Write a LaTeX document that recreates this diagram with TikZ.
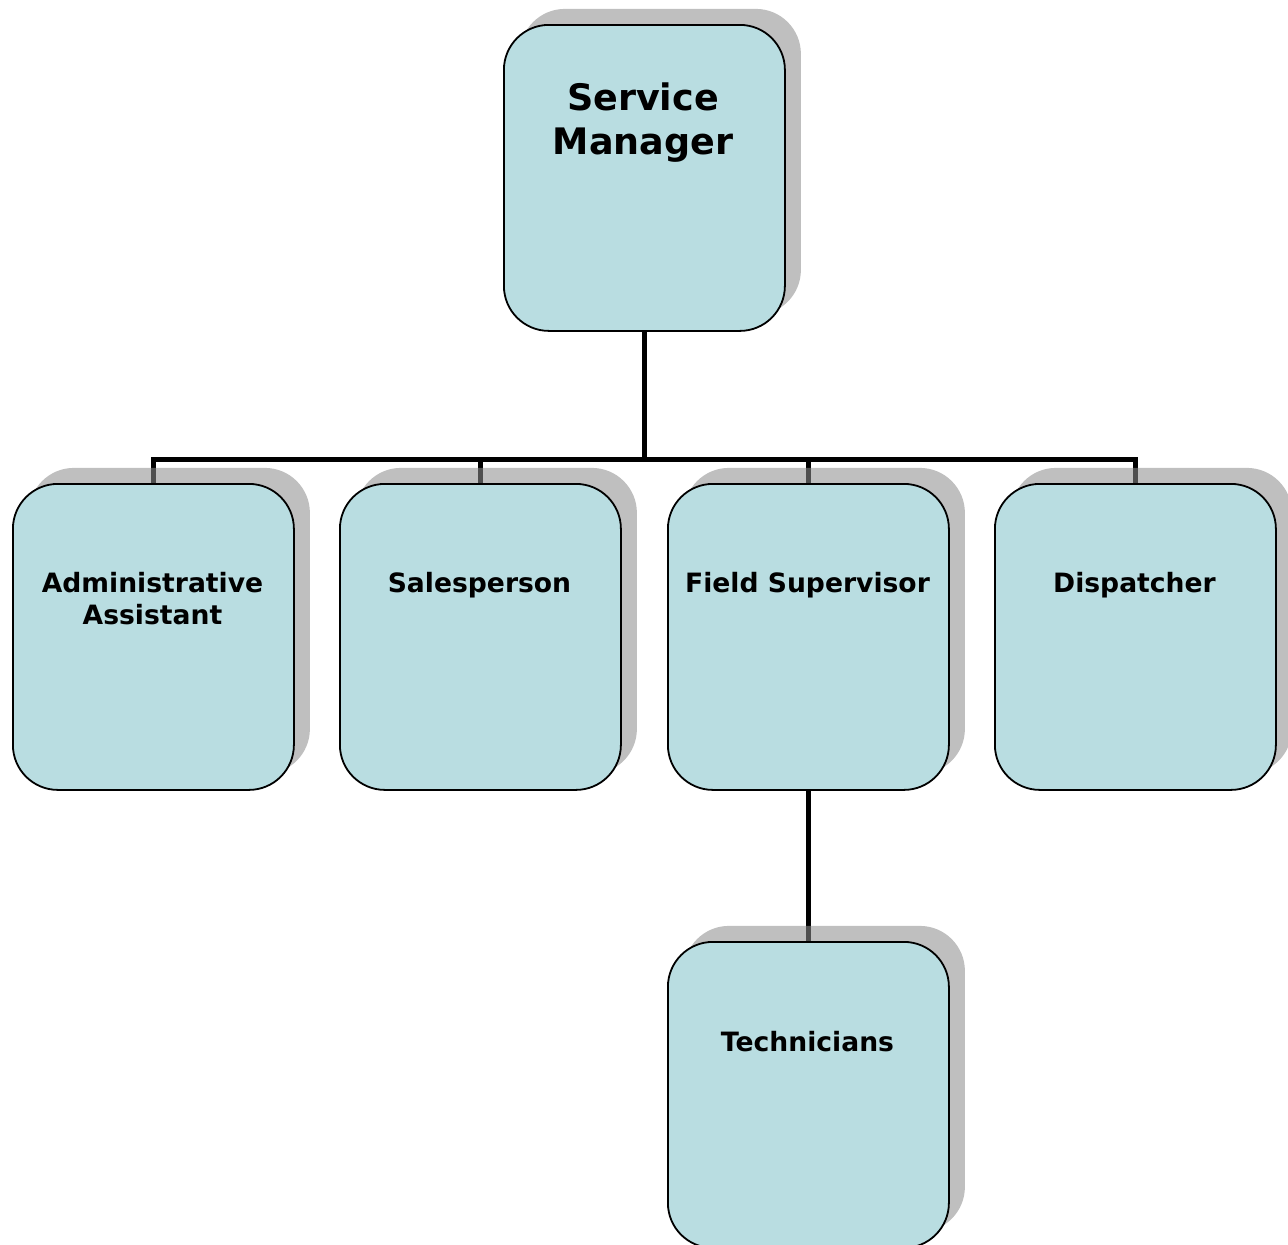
\documentclass[tikz,border=0pt]{standalone}
\usepackage{fontspec}
\setmainfont{DejaVu Sans}
\usetikzlibrary{shadows}
\pgfdeclarelayer{background}
\pgfsetlayers{background,main}
\definecolor{boxfill}{RGB}{185,221,225}
\definecolor{shadegray}{RGB}{141,141,141}
\tikzset{
  rolebox/.style={draw=black, line width=1.8pt, fill=boxfill,
    rounded corners=45pt, minimum width=281pt, minimum height=306pt,
    inner sep=0pt, anchor=north west,
    general shadow={shadow xshift=16pt, shadow yshift=16pt,
      fill=shadegray, opacity=0.56}},
  toptext/.style={anchor=north, inner sep=0pt, align=center,
    font=\fontsize{36.5}{44}\selectfont\bfseries},
  roletext/.style={anchor=north, inner sep=0pt, align=center,
    font=\fontsize{26.6}{32}\selectfont\bfseries},
  link/.style={draw=black, line width=5pt}
}
\begin{document}
\begin{tikzpicture}[x=1pt, y=1pt]
\useasboundingbox (0,0) rectangle (1288,-1245);

% level of the horizontal reporting bar
\coordinate (bus) at (0,-459);

% boxes
\node[rolebox] (sm)   at (503,-24)  {};
\node[rolebox] (adm)  at (12,-483)  {};
\node[rolebox] (sal)  at (339,-483) {};
\node[rolebox] (fs)   at (667,-483) {};
\node[rolebox] (dis)  at (994,-483) {};
\node[rolebox] (tec)  at (667,-941) {};

% reporting lines, kept underneath the boxes and their shadows
\begin{pgfonlayer}{background}
\draw[link] (sm.south) -- (sm.south |- bus);
\draw[link, line cap=rect] (adm.north |- bus) -- (dis.north |- bus);
\draw[link] (adm.north |- bus) -- (adm.north);
\draw[link] (sal.north |- bus) -- (sal.north);
\draw[link] (fs.north |- bus) -- (fs.north);
\draw[link] (dis.north |- bus) -- (dis.north);
\draw[link] (fs.south) -- (tec.north);
\end{pgfonlayer}

% labels
\node[toptext]  (smt)  at (643,-83)    {Service\\Manager};
\node[roletext] (admt) at (152.5,-572) {Administrative\\Assistant};
\node[roletext] (salt) at (479.5,-572) {Salesperson};
\node[roletext] (fst)  at (807.5,-572) {Field Supervisor};
\node[roletext] (dist) at (1134.5,-572) {Dispatcher};
\node[roletext] (tect) at (807.5,-1031) {Technicians};
\end{tikzpicture}
\end{document}
